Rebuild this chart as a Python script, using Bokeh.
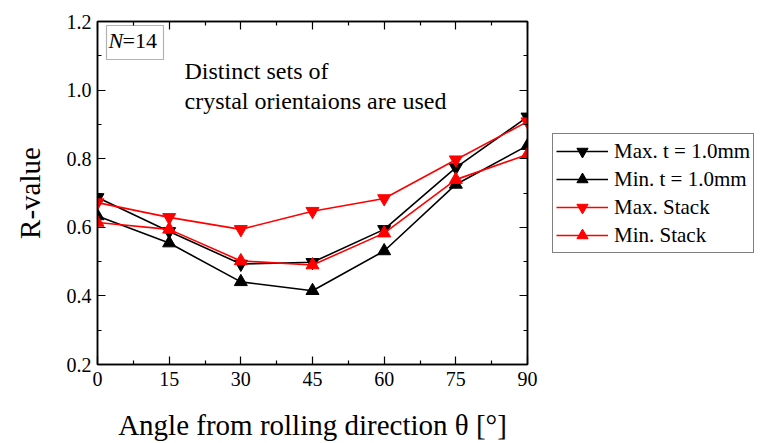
import math
from bokeh.plotting import figure
from bokeh.layouts import row
from bokeh.models import (Range1d, FixedTicker, LinearAxis, Legend, LegendItem,
                          Label, BoxAnnotation, PrintfTickFormatter)
from bokeh.embed import file_html
from bokeh.resources import INLINE

angles = [0, 15, 30, 45, 60, 75, 90]
max_t10 = [0.687, 0.588, 0.493, 0.498, 0.594, 0.774, 0.922]
min_t10 = [0.633, 0.554, 0.441, 0.415, 0.531, 0.725, 0.838]
max_stack = [0.672, 0.629, 0.594, 0.647, 0.684, 0.797, 0.908]
min_stack = [0.614, 0.594, 0.502, 0.490, 0.583, 0.739, 0.812]
series_labels = ["Max. t = 1.0mm", "Min. t = 1.0mm", "Max. Stack", "Min. Stack"]
x_ticks = [0, 15, 30, 45, 60, 75, 90]
x_minor = [7.5, 22.5, 37.5, 52.5, 67.5, 82.5]
y_ticks = [0.2, 0.4, 0.6, 0.8, 1.0, 1.2]
y_minor = [0.3, 0.5, 0.7, 0.9, 1.1]
x_title = "Angle from rolling direction θ [°]"
y_title = "R-value"

FONT = "Liberation Serif"

p = figure(width=540, height=443,
           x_range=Range1d(0, 90), y_range=Range1d(0.2, 1.2),
           x_axis_type=None, y_axis_type=None,
           output_backend="svg", toolbar_location=None,
           min_border_left=97, min_border_right=13, min_border_top=21, min_border_bottom=77)
p.outline_line_color = "black"
p.outline_line_width = 1.5
p.background_fill_color = "white"

xt = FixedTicker(ticks=x_ticks, minor_ticks=x_minor)
yt = FixedTicker(ticks=y_ticks, minor_ticks=y_minor)

bottom_ax = LinearAxis(ticker=xt, axis_label=x_title)
left_ax = LinearAxis(ticker=yt, formatter=PrintfTickFormatter(format="%.1f"), axis_label=y_title)
top_ax = LinearAxis(ticker=xt)
right_ax = LinearAxis(ticker=yt)
p.add_layout(bottom_ax, "below")
p.add_layout(left_ax, "left")
p.add_layout(top_ax, "above")
p.add_layout(right_ax, "right")

for ax in [bottom_ax, left_ax, top_ax, right_ax]:
    ax.axis_line_color = "black"
    ax.axis_line_width = 1.5
    ax.major_tick_in = 8
    ax.major_tick_out = 0
    ax.minor_tick_in = 4
    ax.minor_tick_out = 0
    ax.major_tick_line_color = "black"
    ax.minor_tick_line_color = "black"
    ax.major_tick_line_width = 1.2
    ax.minor_tick_line_width = 1.2
    ax.major_label_text_font = FONT
    ax.major_label_text_font_size = "20px"
    ax.major_label_text_color = "black"
    ax.axis_label_text_font = FONT
    ax.axis_label_text_font_size = "29px"
    ax.axis_label_text_font_style = "normal"
    ax.axis_label_text_color = "black"

bottom_ax.major_label_standoff = 7
bottom_ax.axis_label_standoff = 20
left_ax.major_label_standoff = 6
left_ax.axis_label_standoff = 18
top_ax.major_label_overrides = {t: "" for t in x_ticks}
right_ax.major_label_overrides = {t: "" for t in y_ticks}
top_ax.major_label_standoff = 0
right_ax.major_label_standoff = 0

p.xgrid.ticker = xt
p.ygrid.ticker = yt
p.grid.grid_line_color = "#cccccc"
p.grid.grid_line_width = 1

specs = [
    (max_t10, "black", "inverted_triangle"),
    (min_t10, "black", "triangle"),
    (max_stack, "red", "inverted_triangle"),
    (min_stack, "red", "triangle"),
]
for vals, col, mk in specs:
    p.line(angles, vals, line_color=col, line_width=1.6)
    p.scatter(angles, vals, marker=mk, size=13, fill_color=col, line_color=col)

def lab(x, y, text, size, italic=False):
    return Label(x=x, y=y, x_units="screen", y_units="screen", text=text,
                 text_font=FONT, text_font_style="italic" if italic else "normal",
                 text_font_size=size, text_color="black", text_align="left",
                 text_baseline="alphabetic")

p.add_layout(BoxAnnotation(left=9, right=66, bottom=305, top=339,
                           left_units="screen", right_units="screen",
                           bottom_units="screen", top_units="screen",
                           fill_alpha=0, line_color="black", line_width=1.2))
p.add_layout(lab(11, 324, "N", "22px", italic=True))
p.add_layout(lab(25, 324, "=14", "22px"))
p.add_layout(lab(87, 294, "Distinct sets of", "24px"))
p.add_layout(lab(87, 264, "crystal orientaions are used", "24px"))

# legend panel (separate figure, legend keys only)
pl = figure(width=222, height=443, x_range=Range1d(0, 90), y_range=Range1d(0.2, 1.2),
            x_axis_type=None, y_axis_type=None, output_backend="svg",
            toolbar_location=None, min_border=0)
pl.outline_line_color = None
pl.background_fill_color = "white"
items = []
for (vals, col, mk), lab_text in zip(specs, series_labels):
    l = pl.line(angles, vals, line_color=col, line_width=1.6, visible=False)
    s = pl.scatter(angles, vals, marker=mk, size=13, fill_color=col, line_color=col,
                   visible=False)
    items.append(LegendItem(label=lab_text, renderers=[l, s]))

legend = Legend(items=items, location=(12, 111))
legend.label_text_font = FONT
legend.label_text_font_size = "21px"
legend.label_text_color = "black"
legend.border_line_color = "black"
legend.border_line_width = 1
legend.background_fill_alpha = 1
legend.padding = 3
legend.spacing = 0
legend.margin = 0
legend.glyph_width = 52
legend.glyph_height = 28
legend.label_height = 28
legend.label_standoff = 6
pl.add_layout(legend)

layout = row(p, pl, spacing=0)
open("out.html", "w").write(file_html(layout, INLINE))
